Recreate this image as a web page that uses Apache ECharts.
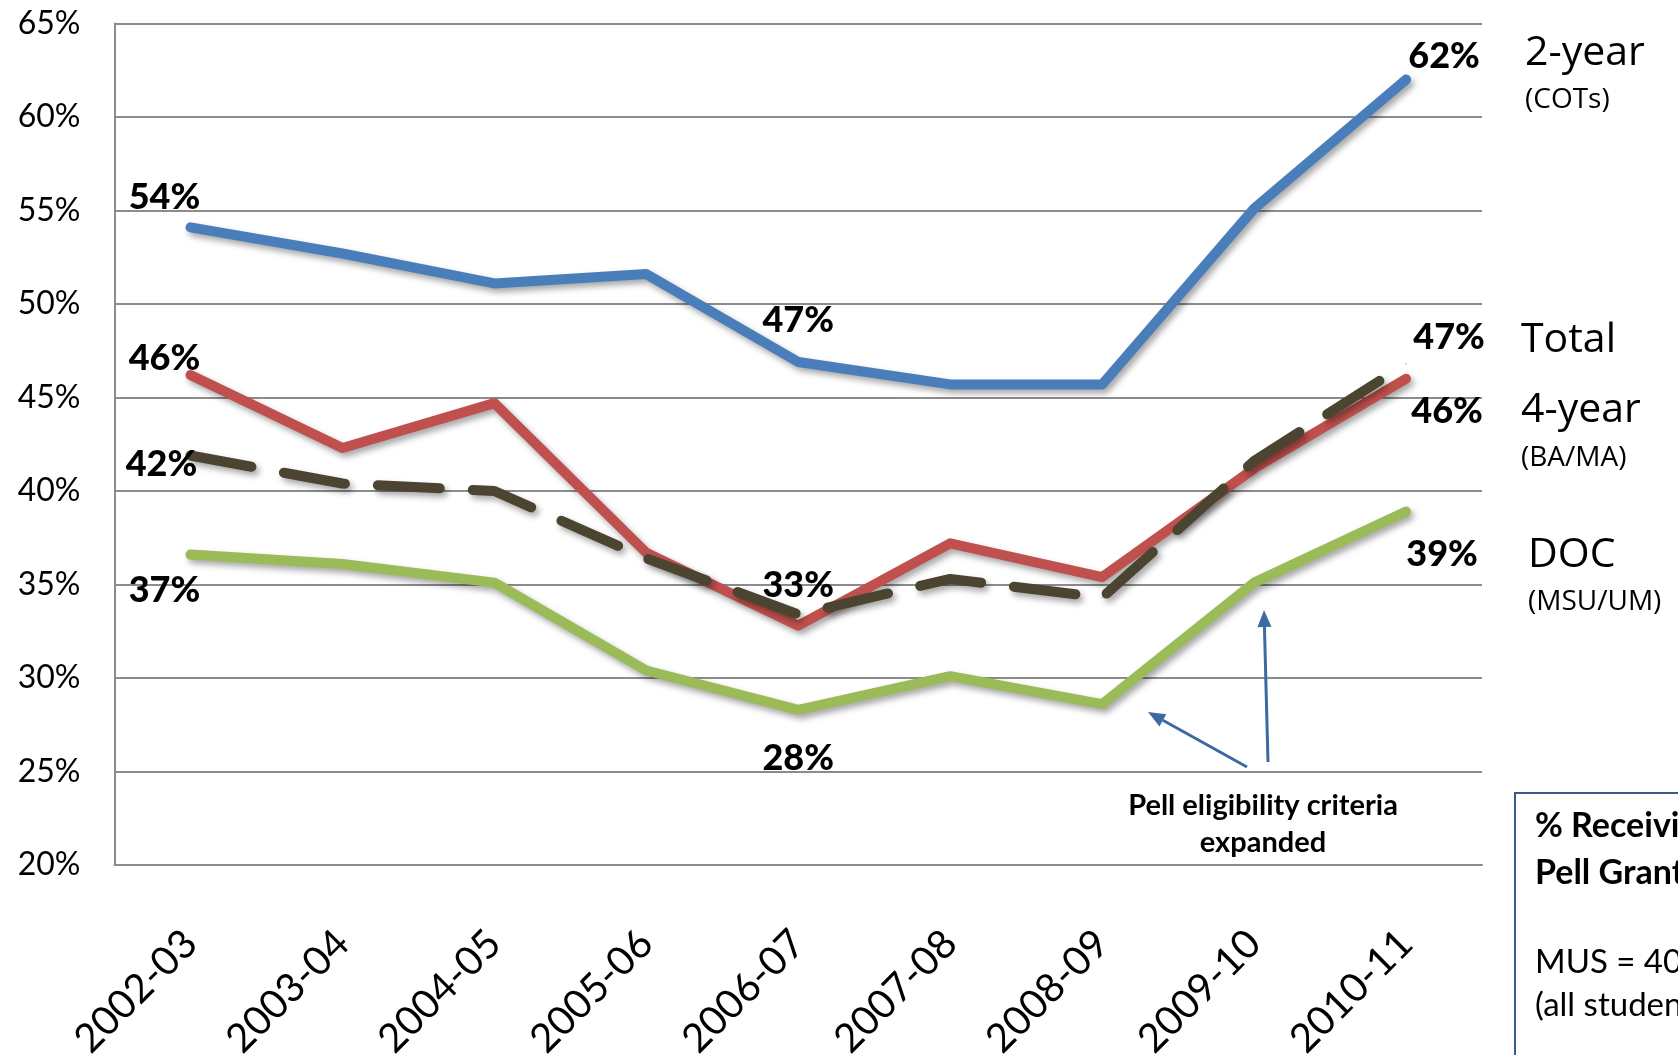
<!DOCTYPE html>
<html><head><meta charset="utf-8">
<script src="https://cdn.jsdelivr.net/npm/echarts@6/dist/echarts.min.js"></script>
<style>html,body{margin:0;padding:0;background:#fff;overflow:hidden}#c{width:1678px;height:1055px}</style>
</head><body><div id="c"></div>
<script>
// ---- data ----
const categories = ['2002-03','2003-04','2004-05','2005-06','2006-07','2007-08','2008-09','2009-10','2010-11'];
const twoYear  = [54.1, 52.7, 51.1, 51.6, 46.9, 45.7, 45.7, 55.1, 62.0];
const fourYear = [46.2, 42.3, 44.7, 36.7, 32.8, 37.2, 35.4, 41.2, 46.0];
const total    = [41.9, 40.4, 40.0, 36.4, 33.4, 35.3, 34.3, 41.6, 46.8];
const doc      = [36.6, 36.1, 35.1, 30.4, 28.3, 30.1, 28.6, 35.1, 38.9];
const yMin = 20, yMax = 65, yStep = 5;
const seriesNames = ['2-year', '4-year', 'Total', 'DOC'];
const seriesSubs  = ['(COTs)', '(BA/MA)', '', '(MSU/UM)'];
const noteLines = ['Pell eligibility criteria', 'expanded'];
const boxTitle = ['% Receiving', 'Pell Grants'];
const boxBody = ['MUS = 40%', '(all students)'];

// ---- styles ----
const lbl = { fontFamily: 'Lato', fontWeight: 900, fontSize: 36 };
const shadow = { shadowColor: 'rgba(0,0,0,0.35)', shadowBlur: 6, shadowOffsetX: 3, shadowOffsetY: 4 };

function withLabels(values, specs) {
  return values.map((v, i) => {
    const s = specs[i];
    if (!s) return v;
    return { value: v, label: Object.assign({ show: true, offset: s }, lbl) };
  });
}

const chart = echarts.init(document.getElementById('c'), null, { renderer: 'canvas' });

function lineSeries(name, values, color, specs, extra) {
  return {
    name, type: 'line', data: withLabels(values, specs),
    symbol: 'circle', symbolSize: 1, showSymbol: true,
    itemStyle: { color },
    lineStyle: Object.assign({ color, width: 10, cap: 'round', join: 'round' }, shadow, extra || {}),
    label: {
      show: false, position: 'inside', color: '#000',
      align: 'center', verticalAlign: 'middle',
      formatter: p => Math.round(p.value) + '%'
    },
    emphasis: { disabled: true },
    silent: true, animation: false, z: 2
  };
}

const option = {
  backgroundColor: '#fff',
  animation: false,
  grid: { left: 114.5, right: 196, top: 23.5, bottom: 190, containLabel: false, outerBoundsMode: 'none' },
  xAxis: {
    type: 'category', data: categories, boundaryGap: true,
    axisLine: { show: true, lineStyle: { color: '#8c8c8c', width: 2 } },
    axisTick: { show: false },
    axisLabel: { rotate: 45, margin: 72, color: '#000', fontFamily: 'Lato', fontSize: 40, interval: 0 }
  },
  yAxis: {
    type: 'value', min: yMin, max: yMax, interval: yStep,
    axisLine: { show: true, lineStyle: { color: '#8c8c8c', width: 2 } },
    axisTick: { show: false },
    splitLine: { show: true, lineStyle: { color: '#8c8c8c', width: 2 } },
    axisLabel: { formatter: '{value}%', color: '#000', fontFamily: 'Lato', fontSize: 32, margin: 34 }
  },
  series: [
    lineSeries(seriesNames[3], doc, '#9bbb59', { 0: [-26, 36], 4: [0, 49], 8: [36, 43] }),
    lineSeries(seriesNames[1], fourYear, '#c0504d', { 0: [-26, -17], 8: [41, 33] }),
    lineSeries(seriesNames[0], twoYear, '#4a7ebb', { 0: [-26, -30], 4: [0, -42], 8: [38, -23] }),
    lineSeries(seriesNames[2], total, '#4a4430', { 0: [-29, 9], 4: [0, -29], 8: [43, -26] },
      { type: [62, 33], width: 10 })
  ]
};
chart.setOption(option);

// ---- annotations ----
function arrow(x1, y1, x2, y2, color) {
  const ang = Math.atan2(y2 - y1, x2 - x1);
  const L = 17, W = 7;
  const bx = x2 - L * Math.cos(ang), by = y2 - L * Math.sin(ang);
  const px = -Math.sin(ang) * W, py = Math.cos(ang) * W;
  return [
    { type: 'line', shape: { x1, y1, x2: bx, y2: by }, style: { stroke: color, lineWidth: 3 } },
    { type: 'polygon', shape: { points: [[x2, y2], [bx + px, by + py], [bx - px, by - py]] }, style: { fill: color } }
  ];
}
const openSans = 'Open Sans';
const g = [];
const nameX = [1525, 1521, 1521, 1528];
const nameY = [53, 410, 340, 555];
const subY = [100, 458, 0, 602];
for (let i = 0; i < 4; i++) {
  g.push({ type: 'text', x: nameX[i], y: nameY[i], style: { text: seriesNames[i], fill: '#000', font: '41px "' + openSans + '"', textVerticalAlign: 'middle' } });
  if (seriesSubs[i]) g.push({ type: 'text', x: nameX[i], y: subY[i], style: { text: seriesSubs[i], fill: '#000', font: '28px "' + openSans + '"', textVerticalAlign: 'middle' } });
}
g.push({ type: 'text', x: 1263, y: 806, style: { text: noteLines[0], fill: '#000', font: 'bold 29px Lato', textAlign: 'center', textVerticalAlign: 'middle' } });
g.push({ type: 'text', x: 1263, y: 843, style: { text: noteLines[1], fill: '#000', font: 'bold 29px Lato', textAlign: 'center', textVerticalAlign: 'middle' } });
const ac = '#3d6aa1';
arrow(1247, 767, 1148, 712, ac).forEach(e => g.push(e));
arrow(1268, 762, 1264, 610, ac).forEach(e => g.push(e));
g.push({ type: 'rect', shape: { x: 1515, y: 793, width: 400, height: 400 }, style: { fill: '#fff', stroke: '#385d8a', lineWidth: 2 } });
g.push({ type: 'text', x: 1535, y: 826, style: { text: boxTitle[0], fill: '#000', font: 'bold 34px Lato', textVerticalAlign: 'middle' } });
g.push({ type: 'text', x: 1535, y: 873, style: { text: boxTitle[1], fill: '#000', font: 'bold 34px Lato', textVerticalAlign: 'middle' } });
g.push({ type: 'text', x: 1535, y: 962, style: { text: boxBody[0], fill: '#000', font: '33px Lato', textVerticalAlign: 'middle' } });
g.push({ type: 'text', x: 1535, y: 1005, style: { text: boxBody[1], fill: '#000', font: '33px Lato', textVerticalAlign: 'middle' } });
chart.setOption({ graphic: { elements: g.map(e => Object.assign({ silent: true, z: 10 }, e)) } });
</script></body></html>
